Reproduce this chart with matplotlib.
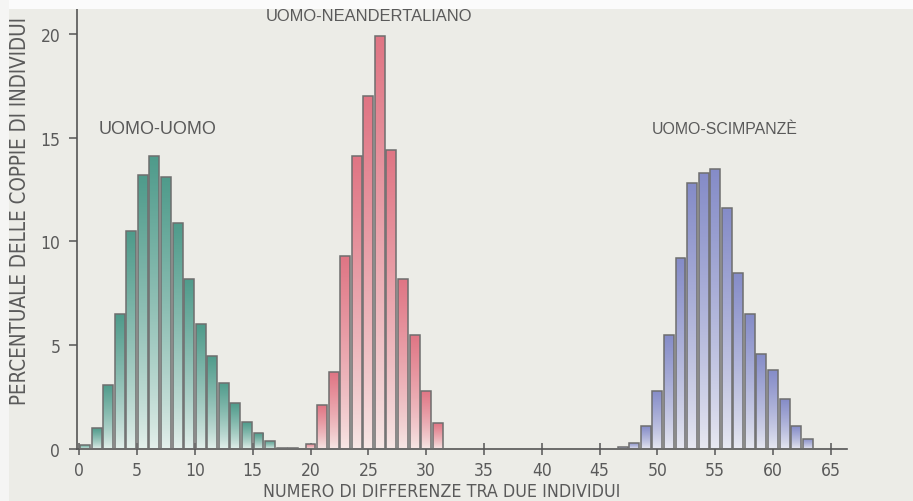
import numpy as np
import matplotlib
matplotlib.use("Agg")
import matplotlib.pyplot as plt
from matplotlib.colors import LinearSegmentedColormap
from matplotlib.patches import Rectangle
from matplotlib import font_manager

# ---------------- data ----------------
green_x = [0.5, 1.5, 2.5, 3.5, 4.5, 5.5, 6.5, 7.5, 8.5, 9.5, 10.5, 11.5,
           12.5, 13.5, 14.5, 15.5, 16.5, 17.5, 18.5]
green_vals = [0.2, 1.0, 3.1, 6.5, 10.5, 13.2, 14.1, 13.1, 10.9, 8.2, 6.0, 4.5,
              3.2, 2.2, 1.3, 0.75, 0.4, 0.06, 0.05]
red_x = [20, 21, 22, 23, 24, 25, 26, 27, 28, 29, 30, 31]
red_vals = [0.25, 2.1, 3.7, 9.3, 14.1, 17.0, 19.9, 14.4, 8.2, 5.5, 2.8, 1.25]
blue_x = [47, 48, 49, 50, 51, 52, 53, 54, 55, 56, 57, 58, 59, 60, 61, 62, 63]
blue_vals = [0.1, 0.3, 1.1, 2.8, 5.5, 9.2, 12.8, 13.3, 13.5, 11.6, 8.5, 6.5,
             4.6, 3.8, 2.4, 1.1, 0.5]

x_ticks = [0, 5, 10, 15, 20, 25, 30, 35, 40, 45, 50, 55, 60, 65]
y_ticks = [0, 5, 10, 15, 20]
labels = ["UOMO-UOMO", "UOMO-NEANDERTALIANO", "UOMO-SCIMPANZÈ"]
x_title = "NUMERO DI DIFFERENZE TRA DUE INDIVIDUI"
y_title = "PERCENTUALE DELLE COPPIE DI INDIVIDUI"

# ---------------- fonts ----------------
avail = {f.name for f in font_manager.fontManager.ttflist}
narrow = "Liberation Sans Narrow" if "Liberation Sans Narrow" in avail else "DejaVu Sans"
regular = "Liberation Sans" if "Liberation Sans" in avail else "DejaVu Sans"

BG = "#ecece7"
TXT = "#5a5a5a"
EDGE = "#6e6e6e"

fig = plt.figure(figsize=(9.13, 5.02), dpi=100, facecolor=BG)
ax = fig.add_axes([0.0843, 0.1036, 0.8434, 0.8765])
ax.set_facecolor("none")

def grad_bars(x, vals, top, bottom):
    cmap = LinearSegmentedColormap.from_list("g", [bottom, top])
    bars = ax.bar(x, vals, width=0.86, facecolor="none", edgecolor=EDGE,
                  linewidth=1.1, zorder=3)
    grad = np.linspace(0, 1, 256).reshape(-1, 1) ** 0.8
    for b in bars:
        x0, w, h = b.get_x(), b.get_width(), b.get_height()
        im = ax.imshow(grad, extent=(x0, x0 + w, 0, h), origin="lower",
                       cmap=cmap, aspect="auto", zorder=2, interpolation="bilinear")
        im.set_clip_path(b)
    return bars

grad_bars(green_x, green_vals, "#4f9b8b", "#e6f1ed")
grad_bars(red_x, red_vals, "#e07584", "#f7e9e7")
grad_bars(blue_x, blue_vals, "#858cc8", "#e9eaf2")

ax.set_xlim(-0.2, 66.4)
ax.set_ylim(0, 21.2)

for s in ["top", "right"]:
    ax.spines[s].set_visible(False)
for s in ["left", "bottom"]:
    ax.spines[s].set_color("#555555")
    ax.spines[s].set_linewidth(1.2)

ax.set_xticks(x_ticks)
ax.set_yticks(y_ticks)
ax.tick_params(axis="x", direction="inout", length=9, width=1.1, color="#555555",
               labelcolor=TXT, labelsize=12.5, pad=4)
ax.tick_params(axis="y", direction="out", length=6, width=1.1, color="#555555",
               labelcolor=TXT, labelsize=12.5, pad=6)
for lab in ax.get_xticklabels() + ax.get_yticklabels():
    lab.set_family(narrow)
    lab.set_stretch("condensed")

ax.set_xlabel(x_title, family=narrow, fontsize=12.8, color=TXT, labelpad=5,
              fontstretch="condensed")
ax.xaxis.set_label_coords(0.474, -0.075)

fig.text(20 / 913, 1 - 211 / 502, y_title, rotation=90, family=narrow,
         fontsize=14.8, color=TXT, ha="center", va="center", fontstretch="condensed")

ax.text(6.8, 15.45, labels[0], family=regular, fontsize=13, color=TXT,
        ha="center", va="center")
ax.text(25.1, 20.9, labels[1], family=regular, fontsize=11.9, color=TXT,
        ha="center", va="center")
ax.text(55.8, 15.45, labels[2], family=regular, fontsize=11.4, color=TXT,
        ha="center", va="center")

# light top margin of the scanned page
fig.patches.append(Rectangle((0, 1 - 10 / 502), 1, 10 / 502, transform=fig.transFigure,
                             facecolor="#fbfbfb", edgecolor="none", zorder=10))
fig.patches.append(Rectangle((0, 0), 9 / 913, 1, transform=fig.transFigure,
                             facecolor="#f5f5f4", edgecolor="none", zorder=10))

fig.savefig("out.png", dpi=100, facecolor=BG)
